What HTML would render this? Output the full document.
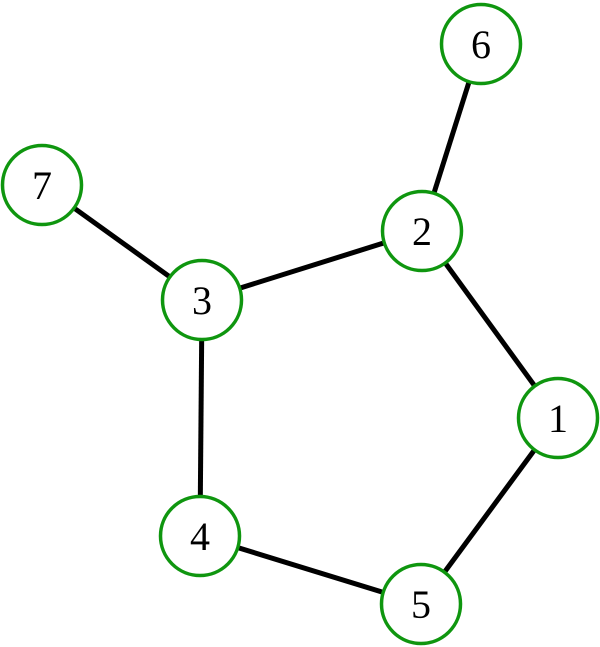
<!DOCTYPE html>
<html><head><style>html,body{margin:0;padding:0;background:#fff;width:600px;height:647px;overflow:hidden}</style></head>
<body>
<svg width="600" height="647" viewBox="0 0 600 647" xmlns="http://www.w3.org/2000/svg">
<g stroke="#000" stroke-width="5">
<line x1="481" y1="44" x2="422" y2="231"/>
<line x1="42" y1="185" x2="202" y2="300"/>
<line x1="422" y1="231" x2="202" y2="300"/>
<line x1="422" y1="231" x2="558" y2="418"/>
<line x1="202" y1="300" x2="200" y2="536"/>
<line x1="200" y1="536" x2="421" y2="604"/>
<line x1="558" y1="418" x2="421" y2="604"/>
</g>
<g fill="#fff" stroke="#0f960f" stroke-width="3.5">
<circle cx="481" cy="44" r="39.5"/>
<circle cx="42" cy="185" r="39.5"/>
<circle cx="422" cy="231" r="39.5"/>
<circle cx="202" cy="300" r="39.5"/>
<circle cx="558" cy="418" r="39.5"/>
<circle cx="200" cy="536" r="39.5"/>
<circle cx="421" cy="604" r="39.5"/>
</g>
<g font-family="Liberation Serif, serif" font-size="40" text-anchor="middle" fill="#000">
<text x="481" y="58">6</text>
<text x="42" y="199">7</text>
<text x="422" y="245">2</text>
<text x="202" y="314">3</text>
<text x="558" y="432">1</text>
<text x="200" y="550">4</text>
<text x="421" y="618">5</text>
</g>
</svg>
</body></html>
